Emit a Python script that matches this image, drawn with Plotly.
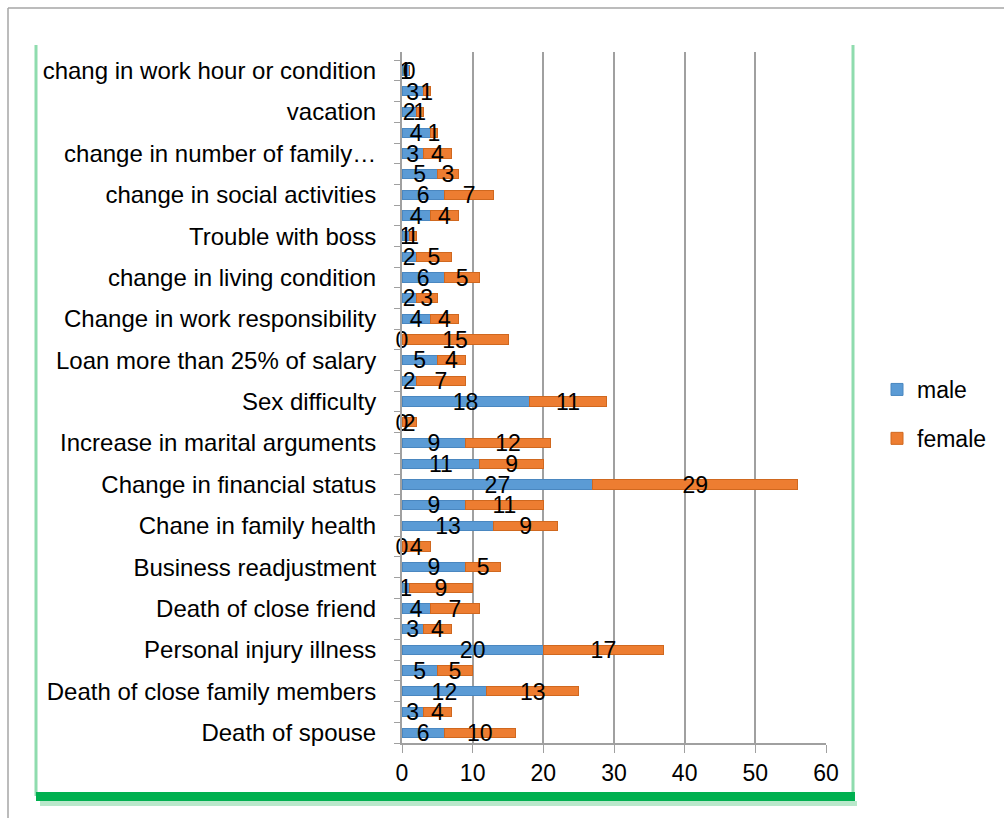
import plotly.graph_objects as go

# Data, bottom (index 0) to top
labels = ["Death of spouse", "", "Death of close family members", "", "Personal injury illness", "",
          "Death of close friend", "", "Business readjustment", "", "Chane in family health", "",
          "Change in financial status", "", "Increase in marital arguments", "", "Sex difficulty", "",
          "Loan more than 25% of salary", "", "Change in work responsibility", "",
          "change in living condition", "", "Trouble with boss", "", "change in social activities", "",
          "change in number of family…", "", "vacation", "", "chang in work hour or condition"]
male = [6, 3, 12, 5, 20, 3, 4, 1, 9, 0, 13, 9, 27, 11, 9, 0, 18, 2, 5, 0, 4, 2, 6, 2, 1, 4, 6, 5, 3, 4, 2, 3, 1]
female = [10, 4, 13, 5, 17, 4, 7, 9, 5, 4, 9, 11, 29, 9, 12, 2, 11, 7, 4, 15, 4, 3, 5, 5, 1, 4, 7, 3, 4, 1, 1, 1, 0]
x_ticks = [0, 10, 20, 30, 40, 50, 60]

pos = list(range(len(labels)))
FONT = "Liberation Sans"

fig = go.Figure()
fig.add_trace(go.Bar(y=pos, x=male, orientation="h", name="male", width=0.45,
                     marker=dict(color="#5B9BD5", line=dict(color="#4a87c0", width=1)),
                     legendgroup="m"))
fig.add_trace(go.Bar(y=pos, x=female, orientation="h", name="female", width=0.45,
                     marker=dict(color="#ED7D31", line=dict(color="#d0681f", width=1)),
                     legendgroup="f"))

# data labels centred on each segment
fig.add_trace(go.Scatter(y=[p - 0.12 for p in pos], x=[m / 2 for m in male], mode="text",
                         text=[str(v) for v in male], textposition="middle center",
                         textfont=dict(family=FONT, size=23, color="black"),
                         showlegend=False, hoverinfo="skip", cliponaxis=False))
fig.add_trace(go.Scatter(y=[p - 0.12 for p in pos], x=[m + f / 2 for m, f in zip(male, female)], mode="text",
                         text=[str(v) for v in female], textposition="middle center",
                         textfont=dict(family=FONT, size=23, color="black"),
                         showlegend=False, hoverinfo="skip", cliponaxis=False))

FIG_W, FIG_H = 1005, 819
L, R = 402, 826
T, B = 52, 743
W, H = R - L, B - T


def px(x):
    return (x - L) / W


def py(y):
    return (B - y) / H


shapes = [
    # outer grey frame
    dict(type="line", xref="paper", yref="paper", x0=px(8), x1=px(8), y0=py(8), y1=py(818),
         line=dict(color="#a6a6a6", width=1.5)),
    dict(type="line", xref="paper", yref="paper", x0=px(8), x1=px(FIG_W - 1), y0=py(8), y1=py(8),
         line=dict(color="#a6a6a6", width=1.5)),
    # green frame
    dict(type="line", xref="paper", yref="paper", x0=px(36), x1=px(36), y0=py(45), y1=py(796),
         line=dict(color="#8fdcae", width=3)),
    dict(type="line", xref="paper", yref="paper", x0=px(853), x1=px(853), y0=py(45), y1=py(796),
         line=dict(color="#8fdcae", width=3)),
    dict(type="rect", xref="paper", yref="paper", x0=px(36), x1=px(855), y0=py(792), y1=py(801),
         fillcolor="#00B050", line=dict(width=0)),
    dict(type="rect", xref="paper", yref="paper", x0=px(40), x1=px(857), y0=py(801), y1=py(806),
         fillcolor="#b9e8cb", line=dict(width=0), layer="below"),
]

fig.update_layout(
    barmode="stack",
    autosize=False,
    width=FIG_W, height=FIG_H,
    margin=dict(l=L, r=FIG_W - R, t=T, b=FIG_H - B, autoexpand=False),
    paper_bgcolor="white", plot_bgcolor="white",
    font=dict(family=FONT, size=23, color="black"),
    showlegend=True,
    legend=dict(x=px(877), y=py(368), xanchor="left", yanchor="top",
                font=dict(family=FONT, size=23), tracegroupgap=16,
                bgcolor="rgba(0,0,0,0)"),
    shapes=shapes,
    xaxis=dict(range=[0, 60], tickvals=x_ticks, ticktext=[str(v) for v in x_ticks],
               showgrid=True, gridcolor="#a0a0a0", gridwidth=2,
               showline=True, linecolor="#a0a0a0", linewidth=2,
               ticks="outside", ticklen=8, tickcolor="#a0a0a0", tickwidth=1,
               tickfont=dict(family=FONT, size=23), zeroline=False, fixedrange=True,
               automargin=False),
    yaxis=dict(range=[-0.5, 32.9], tickmode="array", tickvals=pos, ticktext=labels,
               showgrid=False, showline=True, linecolor="#a0a0a0", linewidth=2,
               ticks="outside", ticklen=19, tickcolor="rgba(0,0,0,0)",
               minor=dict(tickmode="array", tickvals=[p - 0.5 for p in pos] + [32.5],
                          ticks="outside", ticklen=6, tickcolor="#a0a0a0", showgrid=False),
               tickfont=dict(family=FONT, size=24), zeroline=False, fixedrange=True,
               automargin=False),
)

fig.write_html("out.html", config={"displayModeBar": False, "responsive": False},
               post_script="document.body.style.margin='0';document.body.style.overflow='hidden';")
